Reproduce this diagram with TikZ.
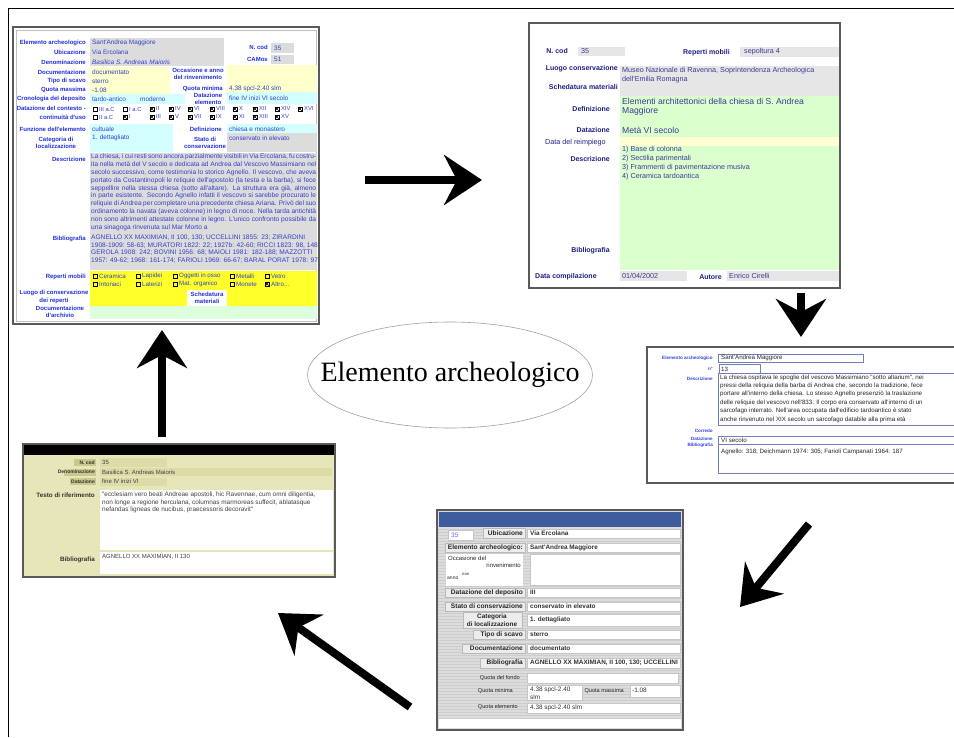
\documentclass[tikz,border=0pt]{standalone}
\usepackage{fontspec}
\setmainfont{Liberation Serif}
\newfontfamily\formfont{Liberation Sans}
\usepackage{xcolor}
\definecolor{sheet-frame}{HTML}{5A5A5A}
\definecolor{f1-blue}{HTML}{2230D8}
\definecolor{f1-text}{HTML}{3340C8}
\definecolor{f1-gray}{HTML}{DCDCDC}
\definecolor{f1-cream}{HTML}{FFFFCC}
\definecolor{f1-cyan}{HTML}{D4FFFF}
\definecolor{f1-yellow}{HTML}{FFFF2A}
\definecolor{f1-green}{HTML}{DDFFDD}
\definecolor{f2-navy}{HTML}{1E1E82}
\definecolor{f2-text}{HTML}{3A3A96}
\definecolor{f2-gray}{HTML}{E6E6E6}
\definecolor{f2-green}{HTML}{DCFFCE}
\definecolor{f2-cream}{HTML}{FFFFD2}
\definecolor{f3-blue}{HTML}{3344E0}
\definecolor{f3-edge}{HTML}{7080B4}
\definecolor{f4-back}{HTML}{DCDCDC}
\definecolor{f4-line}{HTML}{CDCDCD}
\definecolor{f4-btn}{HTML}{ECECEC}
\definecolor{f4-head}{HTML}{3F5D9C}
\definecolor{f5-back}{HTML}{E6E6B8}
\definecolor{f5-dark}{HTML}{C9C98E}
\definecolor{f5-cell}{HTML}{DDDBA8}
\usepackage{tikz}
\usetikzlibrary{arrows.meta,shapes.geometric}

\newcounter{nd}
\newcommand{\ff}[2]{\formfont\fontsize{#1}{#2}\selectfont}
\newcommand{\lb}[3][]{\stepcounter{nd}\node[lb,#1] (t\thend) at (#2) {#3};}
\newcommand{\vl}[3][]{\stepcounter{nd}\node[vl,#1] (t\thend) at (#2) {#3};}
\newcommand{\ckbox}[3]{\draw[line width=0.4pt] (#1,#2) rectangle ++(4,4);
  \ifnum#3=1 \draw[line width=0.4pt] (#1,#2) -- ++(4,4) ++(-4,0) -- ++(4,-4);\fi}

\tikzset{
  bigarrow/.style={line width=8pt, -{Stealth[length=38pt,width=50pt,inset=13pt]}},
  hub/.style={ellipse, draw=gray!75, line width=0.6pt, minimum width=285pt,
    minimum height=106pt, inner sep=0pt},
  hubtext/.style={inner sep=0pt, font=\fontsize{28}{30}\selectfont},
  btn/.style={fill=f4-btn, draw=gray!55, line width=0.4pt},
  cell/.style={fill=white, draw=gray!45, line width=0.4pt}
}

\begin{document}
\begin{tikzpicture}[x=1pt, y=-1pt]
    \useasboundingbox (0,0) rectangle (954,737);

    % Page frame
    \draw[line width=0.8pt] (8,737) -- (8,8) -- (954,8);

    % Sheet 1: scheda elemento
    \begin{scope}[lb/.style={anchor=east, inner sep=0pt, align=right, text=f1-blue, font=\ff{6}{7.5}\bfseries},
                  vl/.style={anchor=west, inner sep=0pt, align=left, text=f1-text, font=\ff{6.4}{7}}]
    \fill[white] (12,26) rectangle (320,325);
    \draw[sheet-frame, line width=1.5pt] (13,27) rectangle (319,324);
    \draw[gray!50, line width=0.6pt] (16,30) rectangle (316,321);
    \fill[f1-gray] (90,38) rectangle (224,66);
    \fill[f1-gray] (271,43) rectangle (294,53);
    \fill[f1-gray] (271,55) rectangle (294,64);
    \fill[f1-cream] (90,67) rectangle (170,94);
    \fill[f1-cream] (227,65) rectangle (317,92);
    \fill[f1-cyan] (90,94) rectangle (185,104);
    \fill[f1-cyan] (227,92) rectangle (317,104);
    \fill[f1-cyan] (90,124) rectangle (173,152);
    \fill[f1-cyan] (227,124) rectangle (317,133);
    \fill[f1-gray] (227,133) rectangle (317,152);
    \fill[f1-gray] (90,153) rectangle (317,270);
    \fill[f1-yellow] (90,271) rectangle (317,306);
    \fill[white] (187,290) rectangle (227,306);
    \fill[f1-green] (90,306) rectangle (317,319);
    \lb{86,43}{Elemento archeologico}
    \lb{86,52}{Ubicazione}
    \lb{86,62}{Denominazione}
    \lb{268,47}{N. cod}
    \lb{268,59}{CAMos}
    \lb{86,72}{Documentazione}
    \lb{86,81}{Tipo di scavo}
    \lb{86,90}{Quota massima}
    \lb[anchor=center, align=center]{198,74}{Occasione e anno\\del rinvenimento}
    \lb{223,89}{Quota minima}
    \lb{86,99}{Cronologia del deposito}
    \lb[anchor=center, align=center]{208,99}{Datazione\\elemento}
    \lb[font=\ff{6}{9}\bfseries]{86,113}{Datazione del contesto -\\continuità d'uso}
    \lb{86,129}{Funzione dell'elemento}
    \lb{222,129}{Definizione}
    \lb[anchor=center, align=center]{56,143}{Categoria di\\localizzazione}
    \lb[anchor=center, align=center]{205,143}{Stato di\\conservazione}
    \lb{86,159}{Descrizione}
    \lb{86,239}{Bibliografia}
    \lb{86,277}{Reperti mobili}
    \lb[anchor=center, align=center]{54,297}{Luogo di conservazione\\dei reperti}
    \lb[anchor=center, align=center]{207,298}{Schedatura\\materiali}
    \lb[anchor=center, align=center]{60,312}{Documentazione\\d'archivio}
    \vl{92,43}{Sant'Andrea Maggiore}
    \vl{92,52}{Via Ercolana}
    \vl{92,62}{\itshape Basilica S. Andreas Maioris}
    \vl{274,48}{35}
    \vl{274,59}{51}
    \vl{92,72}{documentato}
    \vl{92,81}{sterro}
    \vl{92,90}{-1.08}
    \vl{229,89}{4.38 spcl-2.40 slm}
    \vl{92,99}{tardo-antico}
    \vl{140,99}{moderno}
    \vl{229,98}{fine IV inizi VI secolo}
    \vl{92,129}{cultuale}
    \vl{92,138}{1. dettagliato}
    \vl{229,129}{chiesa e monastero}
    \vl{229,138}{conservato in elevato}
    \foreach \x/\t/\c in {93/III a.C/0,123/I a.C/0,150/II/1,169/IV/1,188/VI/1,210/VIII/1,233/X/1,253/XII/1,275/XIV/1,298/XVI/1}{
      \ckbox{\x}{107}{\c}
      \node[vl, font=\ff{5.8}{6}] (c1\x) at (\x+6,109) {\t};
    }
    \foreach \x/\t/\c in {93/II a.C/0,123/I/1,150/III/1,169/V/1,188/VII/1,210/IX/1,233/XI/1,253/XIII/1,275/XV/1}{
      \ckbox{\x}{115}{\c}
      \node[vl, font=\ff{5.8}{6}] (c2\x) at (\x+6,117) {\t};
    }
    \begin{scope}
      \clip (90,153) rectangle (317,270);
      \node[vl, anchor=north west, text width=225pt, align=justify, font=\ff{6.6}{7.8}] (desc1) at (91,154)
        {La chiesa, i cui resti sono ancora parzialmente visibili in Via Ercolana, fu costruita nella metà del V secolo e dedicata ad Andrea dal Vescovo Massimiano nel secolo successivo, come testimonia lo storico Agnello. Il vescovo, che aveva portato da Costantinopoli le reliquie dell'apostolo (la testa e la barba), si fece seppellire nella stessa chiesa (sotto all'altare). La struttura era già, almeno in parte esistente. Secondo Agnello infatti il vescovo si sarebbe procurato le reliquie di Andrea per completare una precedente chiesa Ariana. Privò del suo ordinamento la navata (aveva colonne) in legno di noce. Nella tarda antichità non sono altrimenti attestate colonne in legno. L'unico confronto possibile da una sinagoga rinvenuta sul Mar Morto a};
      \node[vl, anchor=north west, align=left, font=\ff{6.6}{7.8}] (bibl1) at (91,234.5)
        {AGNELLO XX MAXIMIAN, II 100, 130; UCCELLINI 1855: 23; ZIRARDINI\\1908-1909: 58-63; MURATORI 1822: 22; 1927b: 42-60; RICCI 1823: 98, 148;\\GEROLA 1908: 242; BOVINI 1956: 68; MAIOLI 1981: 182-188; MAZZOTTI\\1957: 49-62; 1968: 161-174; FARIOLI 1969: 66-67; BARAL PORAT 1978: 97;};
    \end{scope}
    \foreach \x/\t/\c in {93/Ceramica/0,136/Lapidei/0,173/Oggetti in osso/0,230/Metalli/0,265/Vetro/0}{
      \ckbox{\x}{274}{\c}
      \node[vl, font=\ff{6.2}{6}] (r1\x) at (\x+6,276) {\t};
    }
    \foreach \x/\t/\c in {93/Intonaci/0,136/Laterizi/0,173/{Mat. organico}/0,230/Monete/0,265/{Altro\ldots}/1}{
      \ckbox{\x}{282}{\c}
      \node[vl, font=\ff{6.2}{6}] (r2\x) at (\x+6,284) {\t};
    }
    \end{scope}

    % Sheet 2: reimpiego
    \begin{scope}[lb/.style={anchor=east, inner sep=0pt, align=right, text=f2-navy, font=\ff{7}{8}\bfseries},
                  vl/.style={anchor=west, inner sep=0pt, align=left, text=f2-text, font=\ff{7.2}{9}}]
    \fill[white] (529,23) rectangle (840,288);
    \draw[sheet-frame, line width=1.5pt] (529,23) rectangle (840,288);
    \fill[f2-gray] (578,47) rectangle (625,56);
    \fill[f2-gray] (740,47) rectangle (839,57);
    \fill[f2-gray] (620,66) rectangle (839,96);
    \fill[f2-green] (620,96) rectangle (839,137);
    \fill[f2-cream] (620,137) rectangle (839,146);
    \fill[f2-green] (620,146) rectangle (839,270);
    \fill[f2-gray] (620,271) rectangle (687,281);
    \fill[f2-gray] (727,271) rectangle (839,281);
    \lb{568,51}{N. cod}
    \lb{730,53}{Reperti mobili}
    \lb{618,69}{Luogo conservazione}
    \lb{618,87}{Schedatura materiali}
    \lb{610,109}{Definizione}
    \lb{610,130}{Datazione}
    \lb[anchor=west, font=\ff{7.2}{8}]{545,143}{Data del reimpiego}
    \lb{610,159}{Descrizione}
    \lb{610,251}{Bibliografia}
    \lb[anchor=west]{535,277}{Data compilazione}
    \lb{722,277}{Autore}
    \vl{581,51}{35}
    \vl{744,52}{sepoltura 4}
    \vl{622,75.5}{Museo Nazionale di Ravenna, Soprintendenza Archeologica\\dell'Emilia Romagna}
    \vl[font=\ff{8.6}{9}]{622,106.5}{Elementi architettonici della chiesa di S. Andrea\\Maggiore}
    \vl[font=\ff{8.6}{9}]{622,130}{Metà VI secolo}
    \vl[anchor=north west]{622,146}{1) Base di colonna\\2) Sectilia parimentali\\3) Frammenti di pavimentazione musiva\\4) Ceramica tardoantica}
    \vl{622,276}{01/04/2002}
    \vl{729,276}{Enrico Cirelli}
    \end{scope}

    % Sheet 3: sepoltura
    \begin{scope}[lb/.style={anchor=east, inner sep=0pt, align=right, text=f3-blue, font=\ff{4.6}{5}\bfseries},
                  vl/.style={anchor=west, inner sep=0pt, align=left, text=black!85, font=\ff{6.2}{8.4}}]
    \fill[white] (647,347) rectangle (954,483);
    \draw[sheet-frame, line width=1.5pt] (954,347) -- (647,347) -- (647,483) -- (954,483);
    \draw[f3-edge, line width=0.8pt] (718,354) rectangle (863,362);
    \draw[f3-edge, line width=0.8pt] (719,364) rectangle (760,373);
    \draw[f3-edge, line width=0.8pt] (718,373) rectangle (960,425);
    \draw[f3-edge, line width=0.8pt] (718,436) rectangle (960,444);
    \draw[f3-edge, line width=0.8pt] (718,444) rectangle (960,473);
    \lb{713,358}{Elemento archeologico}
    \lb{713,369}{n°}
    \lb{713,379}{Descrizione}
    \lb{713,431}{Corredo}
    \lb{713,439}{Datazione}
    \lb{713,445}{Bibliografia}
    \vl{721,358}{Sant'Andrea Maggiore}
    \vl{721,369}{13}
    \vl[anchor=north west]{720,374.5}{La chiesa ospitava le spoglie del vescovo Massimiano "sotto altarium", nei\\pressi della reliquia della barba di Andrea che, secondo la tradizione, fece\\portare all'interno della chiesa. Lo stesso Agnello presenziò la traslazione\\delle reliquie del vescovo nell'833. Il corpo era conservato all'interno di un\\sarcofago interrato. Nell'area occupata dall'edificio tardoantico è stato\\anche rinvenuto nel XIX secolo un sarcofago databile alla prima età}
    \vl{721,440}{VI secolo}
    \vl{721,452}{Agnello: 318; Deichmann 1974: 305; Farioli Campanati 1964: 187}
    \end{scope}

    % Sheet 4: deposito
    \begin{scope}[lb/.style={anchor=east, inner sep=0pt, align=right, text=black!85, font=\ff{6.6}{7}\bfseries},
                  vl/.style={anchor=west, inner sep=0pt, align=left, text=black!80, font=\ff{6.4}{9}\bfseries}]
    \fill[f4-back] (438,511) rectangle (682,729);
    \foreach \yy in {529,532,...,718} \draw[f4-line, line width=0.5pt] (438,\yy) -- (682,\yy);
    \fill[f4-head] (439,512) rectangle (681,527);
    \fill[white] (439,719) rectangle (681,728);
    \draw[sheet-frame, line width=1.2pt] (437,510) rectangle (683,730);
    \draw[cell] (448,530) rectangle (473,540);
    \vl[text=blue!60, font=\ff{6.4}{7}]{451,535}{35}
    \draw[btn] (483,528) rectangle (525,538);
    \draw[cell] (527,529) rectangle (680,538);
    \lb{523,533}{Ubicazione}
    \vl{530,533.5}{Via Ercolana}
    \draw[btn] (445,543) rectangle (525,552);
    \draw[cell] (527,543) rectangle (680,552);
    \lb{523,547.5}{Elemento archeologico:}
    \vl{530,547.5}{Sant'Andrea Maggiore}
    \fill[white] (446,554) rectangle (523,586);
    \draw[cell] (530,554) rectangle (680,585);
    \lb[anchor=west, font=\ff{6}{6}]{448,558}{Occasione del}
    \lb[font=\ff{6}{6}]{521,565}{rinvenimento}
    \lb[anchor=west, font=\ff{5}{5}]{447,578}{anno}
    \lb[anchor=west, font=\ff{4.2}{4}]{462,574}{non}
    \draw[btn] (445,588) rectangle (525,597);
    \draw[cell] (527,588) rectangle (680,597);
    \lb{523,592.5}{Datazione del deposito}
    \vl{530,592.5}{III}
    \draw[btn] (445,602) rectangle (525,611);
    \draw[cell] (527,602) rectangle (680,611);
    \lb{523,606.5}{Stato di conservazione}
    \vl{530,606.5}{conservato in elevato}
    \draw[btn] (463,612) rectangle (522,628);
    \draw[cell] (527,614) rectangle (680,626);
    \lb[anchor=center, align=center, font=\ff{6.4}{7.5}\bfseries]{492,620}{Categoria\\di localizzazione}
    \vl{530,620}{1. dettagliato}
    \draw[btn] (473,630) rectangle (525,639);
    \draw[cell] (527,630) rectangle (680,639);
    \lb{523,634.5}{Tipo di scavo}
    \vl{530,634.5}{sterro}
    \draw[btn] (462,644) rectangle (525,653);
    \draw[cell] (527,644) rectangle (680,653);
    \lb{523,648.5}{Documentazione}
    \vl{530,648.5}{documentato}
    \draw[btn] (480,658) rectangle (525,668);
    \draw[cell] (527,658) rectangle (680,668);
    \lb{523,663}{Bibliografia}
    \vl{530,663}{AGNELLO XX MAXIMIAN, II 100, 130; UCCELLINI}
    \draw[cell] (527,673) rectangle (678,683);
    \lb[font=\ff{5.6}{6}]{520,678}{Quota del fondo}
    \draw[cell] (527,685) rectangle (582,700);
    \draw[cell] (630,685) rectangle (680,697);
    \lb[font=\ff{5.6}{6}]{513,691}{Quota minima}
    \vl[anchor=north west, font=\ff{6.4}{8.5}]{530,686.5}{4.38 spcl-2.40\\slm}
    \lb[font=\ff{5.6}{6}]{624,691}{Quota massima}
    \vl[font=\ff{6.4}{7}]{632,690}{-1.08}
    \draw[cell] (527,703) rectangle (680,713);
    \lb[font=\ff{5.6}{6}]{518,707}{Quota elemento}
    \vl[font=\ff{6.4}{7}]{530,708}{4.38 spcl-2.40 slm}
    \end{scope}

    % Sheet 5: fonte testuale
    \begin{scope}[lb/.style={anchor=east, inner sep=0pt, align=right, text=black!80, font=\ff{6.3}{7}\bfseries},
                  vl/.style={anchor=west, inner sep=0pt, align=left, text=black!75, font=\ff{6}{7.5}}]
    \fill[f5-back] (24,445) rectangle (334,576);
    \fill[black] (24,445) rectangle (334,455);
    \draw[sheet-frame, line width=1.2pt] (23,444) rectangle (335,577);
    \fill[f5-dark] (74,459) rectangle (96,466);
    \fill[f5-dark] (64,468.5) rectangle (96,475.5);
    \fill[f5-dark] (70,478) rectangle (96,485);
    \fill[f5-cell] (100,458) rectangle (167,467);
    \fill[f5-cell] (100,468) rectangle (332,476);
    \fill[f5-cell] (100,478) rectangle (167,486);
    \fill[white] (100,490) rectangle (333,550);
    \fill[white] (100,552) rectangle (333,574);
    \lb[font=\ff{5}{6}\bfseries]{95,462.5}{N. cod}
    \lb[font=\ff{5}{6}\bfseries]{95,472}{Denominazione}
    \lb[font=\ff{5}{6}\bfseries]{95,481.5}{Datazione}
    \lb{95,495}{Testo di riferimento}
    \lb{95,560}{Bibliografia}
    \vl{102,462.5}{35}
    \vl{102,472}{Basilica S. Andreas Maioris}
    \vl{102,481.5}{fine IV inizi VI}
    \vl[anchor=north west, font=\ff{6.4}{7.5}]{102,492}{"ecclesiam vero beati Andreae apostoli, hic Ravennae, cum omni diligentia,\\non longe a regione herculana, columnas marmoreas suffecit, ablatasque\\nefandas ligneas de nucibus, praecessoris decoravit"}
    \vl{102,557}{AGNELLO XX MAXIMIAN, II 130}
    \end{scope}

    % Centre
    \node[hub] (elem) at (450,375) {};
    \node[hubtext] (elemtext) at (elem.center) {Elemento archeologico};

    % Arrows
    \coordinate (a1s) at (365,180);
    \coordinate (a1e) at (482,180);
    \coordinate (a2s) at (801,293);
    \coordinate (a2e) at (801,337);
    \coordinate (a3s) at (809,524);
    \coordinate (a3e) at (740,607);
    \coordinate (a4s) at (410,707);
    \coordinate (a4e) at (278,613);
    \coordinate (a5s) at (162,437);
    \coordinate (a5e) at (162,330);
    \draw[bigarrow] (a1s) -- (a1e);
    \draw[bigarrow] (a2s) -- (a2e);
    \draw[bigarrow] (a3s) -- (a3e);
    \draw[bigarrow] (a4s) -- (a4e);
    \draw[bigarrow] (a5s) -- (a5e);

\end{tikzpicture}
\end{document}
